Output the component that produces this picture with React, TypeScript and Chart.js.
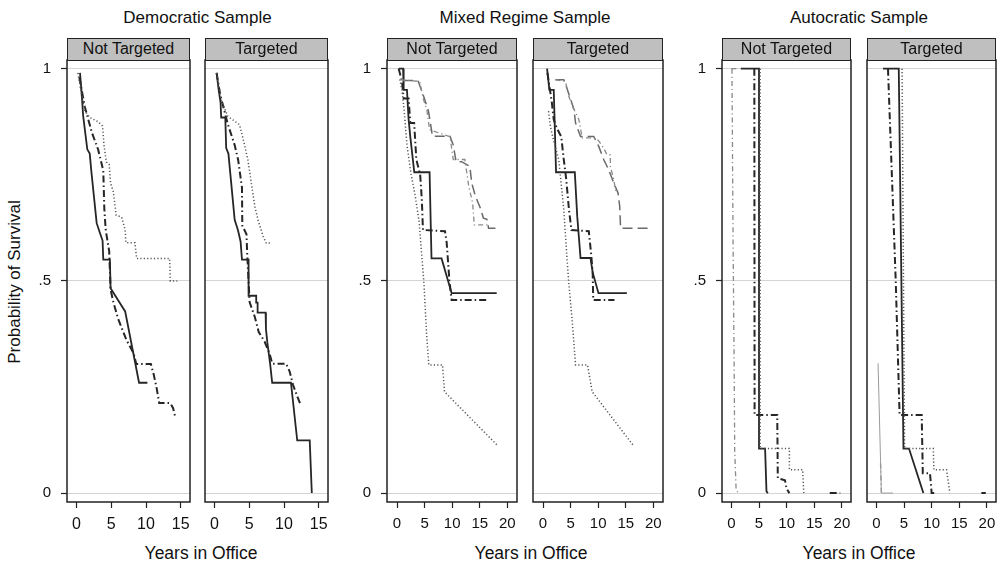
import React, { useEffect, useRef } from 'react';
import { Chart, registerables } from 'chart.js';

Chart.register(...registerables);

const FONT = '"Liberation Sans", Arial, Helvetica, sans-serif';

// ---------- axis tick values ----------
const X_TICKS_15 = [0, 5, 10, 15];
const X_TICKS_20 = [0, 5, 10, 15, 20];
const Y_TICKS = [0, 0.5, 1];
const Y_TICK_LABELS = ['0', '.5', '1'];

const GROUP_TITLES = ['Democratic Sample', 'Mixed Regime Sample', 'Autocratic Sample'];
const STRIP_LABELS = ['Not Targeted', 'Targeted'];
const X_TITLE = 'Years in Office';
const Y_TITLE = 'Probability of Survival';

type Pt = [number, number | null];

// ---------- Democratic, Not Targeted ----------
const demNT_solid: Pt[] = [[0.5, 0.99], [0.7, 0.95], [0.96, 0.888], [1.55, 0.81], [1.9, 0.8], [2.16, 0.754], [2.9, 0.636], [3.37, 0.613], [3.75, 0.595], [3.85, 0.55], [4.8, 0.55], [4.9, 0.483], [7.0, 0.428], [9.0, 0.26], [10.2, 0.26]];
const demNT_dashdot: Pt[] = [[0.4, 0.98], [1.2, 0.91], [2.2, 0.85], [3.1, 0.81], [3.85, 0.76], [4.0, 0.67], [4.2, 0.62], [4.7, 0.57], [4.9, 0.48], [5.3, 0.45], [6.0, 0.41], [7.2, 0.36], [8.2, 0.33], [8.6, 0.304], [10.7, 0.304], [11.1, 0.28], [11.5, 0.25], [11.9, 0.212], [13.5, 0.212], [13.9, 0.2], [14.2, 0.18]];
const demNT_dotted: Pt[] = [[0.2, 0.99], [0.6, 0.95], [1.2, 0.9], [1.9, 0.885], [3.1, 0.875], [3.75, 0.865], [3.95, 0.82], [4.3, 0.78], [4.7, 0.775], [4.9, 0.73], [5.3, 0.71], [5.7, 0.655], [6.5, 0.65], [7.0, 0.62], [7.1, 0.59], [8.4, 0.59], [8.65, 0.553], [13.4, 0.553], [13.5, 0.5], [14.5, 0.5]];

// ---------- Democratic, Targeted ----------
const demT_solid: Pt[] = [[0.3, 0.99], [0.6, 0.95], [0.87, 0.92], [0.96, 0.885], [1.55, 0.885], [1.68, 0.813], [2.0, 0.8], [2.9, 0.644], [3.37, 0.62], [3.75, 0.593], [3.95, 0.55], [4.9, 0.55], [4.9, 0.465], [6.0, 0.465], [6.0, 0.449], [6.2, 0.449], [6.2, 0.425], [7.35, 0.425], [7.4, 0.387], [7.6, 0.355], [7.8, 0.33], [8.0, 0.305], [8.3, 0.26], [11.0, 0.26], [11.2, 0.23], [11.9, 0.124], [13.7, 0.124], [14.0, 0.0]];
const demT_dashdot: Pt[] = [[0.3, 0.99], [0.8, 0.94], [1.9, 0.87], [2.9, 0.82], [3.4, 0.785], [3.95, 0.72], [4.0, 0.63], [4.6, 0.61], [4.7, 0.565], [5.05, 0.45], [5.8, 0.415], [6.35, 0.38], [7.2, 0.357], [7.9, 0.33], [8.3, 0.305], [10.3, 0.305], [10.8, 0.287], [11.3, 0.255], [11.9, 0.228], [12.3, 0.212]];
const demT_dotted: Pt[] = [[0.3, 0.99], [0.96, 0.927], [1.9, 0.888], [3.6, 0.868], [4.2, 0.829], [4.8, 0.785], [5.3, 0.73], [5.8, 0.676], [6.25, 0.644], [7.0, 0.605], [7.45, 0.589], [8.0, 0.589]];

// ---------- Mixed regime, Not Targeted ----------
const mixNT_solid: Pt[] = [[0.3, 1], [1.1, 1], [1.2, 0.95], [1.8, 0.95], [2.1, 0.88], [2.4, 0.84], [3.13, 0.756], [5.9, 0.756], [6.25, 0.553], [8.07, 0.553], [9.9, 0.471], [18.07, 0.471]];
const mixNT_dashdot: Pt[] = [[0.3, 1], [0.9, 0.97], [1.2, 0.93], [2.1, 0.93], [2.4, 0.872], [3.1, 0.872], [3.5, 0.786], [4.2, 0.75], [4.5, 0.69], [4.7, 0.62], [8.7, 0.617], [9.0, 0.59], [9.5, 0.5], [9.9, 0.455], [16.25, 0.455]];
const mixNT_dotted: Pt[] = [[0.5, 0.975], [0.9, 0.95], [1.3, 0.9], [1.8, 0.82], [2.5, 0.755], [3.3, 0.7], [4.0, 0.64], [4.4, 0.573], [4.85, 0.5], [5.35, 0.377], [5.76, 0.302], [8.25, 0.302], [8.6, 0.239], [18.07, 0.114]];
const mixNT_longdash: Pt[] = [[1.1, 0.972], [3.8, 0.972], [4.85, 0.934], [5.7, 0.9], [6.25, 0.856], [6.4, 0.841], [9.6, 0.841], [10.2, 0.82], [10.7, 0.781], [11.7, 0.781], [13.2, 0.77], [13.55, 0.73], [14.2, 0.7], [15.1, 0.672], [15.66, 0.648], [16.3, 0.645], [16.6, 0.624], [17.9, 0.624]];
const mixNT_graydashdot: Pt[] = [[0.6, 0.974], [4.1, 0.97], [4.8, 0.927], [5.4, 0.904], [5.9, 0.856], [9.6, 0.84], [10.2, 0.786], [12.3, 0.786], [13.0, 0.723], [13.7, 0.684], [14.0, 0.632], [16.4, 0.632]];

// ---------- Mixed regime, Targeted ----------
const mixT_solid: Pt[] = [[0.73, 1], [1.15, 0.95], [1.94, 0.95], [2.36, 0.756], [5.76, 0.756], [6.2, 0.652], [6.8, 0.554], [8.6, 0.554], [9.0, 0.52], [10.05, 0.471], [15.2, 0.471]];
const mixT_dashdot: Pt[] = [[0.8, 0.99], [1.6, 0.92], [1.94, 0.88], [2.5, 0.86], [3.3, 0.84], [3.76, 0.786], [4.2, 0.74], [4.7, 0.668], [5.15, 0.62], [8.3, 0.617], [8.75, 0.56], [9.0, 0.518], [9.1, 0.455], [12.95, 0.455]];
const mixT_dotted: Pt[] = [[1.0, 0.9], [1.33, 0.864], [1.94, 0.829], [2.85, 0.786], [3.76, 0.668], [4.36, 0.55], [4.64, 0.5], [5.27, 0.408], [5.9, 0.302], [8.07, 0.302], [8.9, 0.239], [16.5, 0.11]];
const mixT_longdash: Pt[] = [[2.24, 0.974], [3.76, 0.974], [4.3, 0.955], [4.7, 0.94], [5.6, 0.904], [5.9, 0.872], [6.8, 0.84], [9.2, 0.84], [10.1, 0.817], [11.0, 0.786], [11.9, 0.762], [12.85, 0.73], [13.6, 0.707], [13.9, 0.676], [14.06, 0.624], [19.8, 0.624]];
const mixT_graydashdot: Pt[] = [[2.24, 0.974], [4.06, 0.97], [4.67, 0.935], [5.4, 0.91], [6.5, 0.88], [7.1, 0.837], [9.5, 0.837], [10.1, 0.83], [11.0, 0.813], [11.6, 0.797], [12.2, 0.797], [12.2, 0.77], [12.8, 0.74], [13.2, 0.71]];

// ---------- Autocratic, Not Targeted ----------
const autNT_solid: Pt[] = [[1.7, 1], [5.0, 1], [5.0, 0.105], [6.1, 0.105], [6.35, 0.004], [6.6, 0]];
const autNT_dashdot: Pt[] = [[4.15, 1], [4.2, 0.184], [8.3, 0.184], [8.4, 0.035], [9.7, 0.03], [10.0, 0.01], [10.5, 0], [14.0, null], [17.8, 0], [19.7, 0]];
const autNT_dotted: Pt[] = [[5.2, 1], [5.2, 0.105], [10.5, 0.105], [10.5, 0.055], [12.9, 0.055], [13.1, 0]];
const autNT_graydashdot: Pt[] = [[0.1, 1], [0.3, 0.6], [0.5, 0.3], [0.6, 0.1], [0.85, 0.01], [1.2, 0]];
const autNT_longdash: Pt[] = [[0.0, 1], [1.2, 1]];

// ---------- Autocratic, Targeted ----------
const autT_solid: Pt[] = [[1.2, 1], [4.05, 1], [4.9, 0.105], [5.9, 0.105], [8.5, 0]];
const autT_dashdot: Pt[] = [[2.1, 1], [3.5, 0.5], [4.2, 0.184], [8.2, 0.184], [8.4, 0.047], [9.7, 0.047], [10.0, 0], [10.9, 0], [15.0, null], [19.0, 0], [19.8, 0]];
const autT_dotted: Pt[] = [[4.65, 1], [5.1, 0.105], [10.3, 0.105], [10.4, 0.055], [12.7, 0.055], [13.3, 0]];
const autT_thin: Pt[] = [[0.3, 0.306], [0.9, 0], [3.0, 0]];
const autT_graydashdot: Pt[] = [[0.75, 0.07], [0.9, 0]];

// ---------- layout (pixels) ----------
const PLOT_TOP = 60;
const PLOT_BOTTOM = 502;
const YW = 40;
const XH = 40;
const PAD = 2;

type StyleKey = 'solid' | 'dashdot' | 'dotted' | 'longdash' | 'graydashdot' | 'thin';
const STYLES: Record<StyleKey, { color: string; width: number; dash: number[] }> = {
  solid: { color: '#262626', width: 1.8, dash: [] },
  dashdot: { color: '#262626', width: 2, dash: [7, 3, 1.5, 3] },
  dotted: { color: '#555555', width: 1.5, dash: [1.2, 2.2] },
  longdash: { color: '#6a6a6a', width: 1.5, dash: [10, 5] },
  graydashdot: { color: '#8a8a8a', width: 1.3, dash: [5, 3, 1.2, 3] },
  thin: { color: '#9a9a9a', width: 1, dash: [] },
};

type PanelCfg = {
  left: number; right: number; xMin: number; xMax: number; xTicks: number[];
  showY: boolean; xTickSize: number; series: { pts: Pt[]; style: StyleKey }[];
};

const PANELS: PanelCfg[] = [
  { left: 67, right: 190, xMin: -1.37, xMax: 16.33, xTicks: X_TICKS_15, showY: true, xTickSize: 16,
    series: [{ pts: demNT_dotted, style: 'dotted' }, { pts: demNT_dashdot, style: 'dashdot' }, { pts: demNT_solid, style: 'solid' }] },
  { left: 205, right: 328, xMin: -1.37, xMax: 16.33, xTicks: X_TICKS_15, showY: false, xTickSize: 16,
    series: [{ pts: demT_dotted, style: 'dotted' }, { pts: demT_dashdot, style: 'dashdot' }, { pts: demT_solid, style: 'solid' }] },
  { left: 387, right: 517, xMin: -1.82, xMax: 21.75, xTicks: X_TICKS_20, showY: true, xTickSize: 15,
    series: [{ pts: mixNT_graydashdot, style: 'graydashdot' }, { pts: mixNT_longdash, style: 'longdash' }, { pts: mixNT_dotted, style: 'dotted' }, { pts: mixNT_dashdot, style: 'dashdot' }, { pts: mixNT_solid, style: 'solid' }] },
  { left: 533, right: 663, xMin: -1.82, xMax: 21.75, xTicks: X_TICKS_20, showY: false, xTickSize: 15,
    series: [{ pts: mixT_graydashdot, style: 'graydashdot' }, { pts: mixT_longdash, style: 'longdash' }, { pts: mixT_dotted, style: 'dotted' }, { pts: mixT_dashdot, style: 'dashdot' }, { pts: mixT_solid, style: 'solid' }] },
  { left: 722, right: 851, xMin: -1.7, xMax: 21.65, xTicks: X_TICKS_20, showY: true, xTickSize: 15,
    series: [{ pts: autNT_longdash, style: 'graydashdot' }, { pts: autNT_graydashdot, style: 'graydashdot' }, { pts: autNT_dotted, style: 'dotted' }, { pts: autNT_dashdot, style: 'dashdot' }, { pts: autNT_solid, style: 'solid' }] },
  { left: 867, right: 996, xMin: -1.7, xMax: 21.65, xTicks: X_TICKS_20, showY: false, xTickSize: 15,
    series: [{ pts: autT_thin, style: 'thin' }, { pts: autT_graydashdot, style: 'graydashdot' }, { pts: autT_dotted, style: 'dotted' }, { pts: autT_dashdot, style: 'dashdot' }, { pts: autT_solid, style: 'solid' }] },
];

const boxPlugin = {
  id: 'plotBox',
  afterDatasetsDraw(chart: any) {
    const { ctx, chartArea: a } = chart;
    ctx.save();
    ctx.strokeStyle = '#222';
    ctx.lineWidth = 1.5;
    ctx.setLineDash([]);
    ctx.strokeRect(a.left, a.top, a.right - a.left, a.bottom - a.top);
    ctx.restore();
  },
};

function Panel({ cfg }: { cfg: PanelCfg }) {
  const ref = useRef<HTMLCanvasElement>(null);
  const canvasLeft = cfg.left - (cfg.showY ? YW : 0) - PAD;
  const width = cfg.right + PAD - canvasLeft;
  const top = PLOT_TOP - PAD;
  const height = PAD + (PLOT_BOTTOM - PLOT_TOP) + XH;

  useEffect(() => {
    const chart = new Chart(ref.current as HTMLCanvasElement, {
      type: 'line',
      data: {
        datasets: cfg.series.map((sr) => ({
          data: sr.pts.map(([x, y]) => ({ x, y })),
          borderColor: STYLES[sr.style].color,
          borderWidth: STYLES[sr.style].width,
          borderDash: STYLES[sr.style].dash,
          borderCapStyle: 'butt',
          borderJoinStyle: 'miter',
          pointRadius: 0,
          fill: false,
          tension: 0,
          spanGaps: false,
        })) as any,
      },
      options: {
        animation: false,
        responsive: false,
        devicePixelRatio: 1,
        events: [],
        layout: { padding: { left: PAD, right: PAD, top: PAD, bottom: 0 } },
        plugins: { legend: { display: false }, tooltip: { enabled: false } },
        scales: {
          x: {
            type: 'linear',
            min: cfg.xMin,
            max: cfg.xMax,
            afterBuildTicks: (s: any) => { s.ticks = cfg.xTicks.map((v) => ({ value: v })); },
            afterFit: (s: any) => { s.height = XH; s.paddingLeft = 0; s.paddingRight = 0; },
            ticks: {
              font: { size: cfg.xTickSize, family: FONT },
              color: '#111',
              padding: 7,
              maxRotation: 0,
              autoSkip: false,
              callback: (v: any) => String(v),
            },
            grid: { drawOnChartArea: false, drawTicks: true, tickLength: 6, tickColor: '#222', tickWidth: 1.2 },
            border: { display: false },
          },
          y: {
            type: 'linear',
            min: -0.021,
            max: 1.0205,
            afterBuildTicks: (s: any) => { s.ticks = Y_TICKS.map((v) => ({ value: v })); },
            afterFit: (s: any) => { s.width = cfg.showY ? YW : 0; s.paddingTop = 0; s.paddingBottom = 0; },
            ticks: {
              display: cfg.showY,
              font: { size: 15, family: FONT },
              color: '#111',
              padding: 10,
              callback: (_v: any, i: number) => Y_TICK_LABELS[i],
            },
            grid: { color: '#d4d4d4', lineWidth: 1, drawTicks: cfg.showY, tickLength: 6, tickColor: '#222', tickWidth: 1.2 },
            border: { display: false },
          },
        },
      } as any,
      plugins: [boxPlugin],
    });
    return () => chart.destroy();
  }, []);

  return (
    <canvas
      ref={ref}
      width={width}
      height={height}
      style={{ position: 'absolute', left: canvasLeft, top, width, height }}
    />
  );
}

const textBase: React.CSSProperties = {
  position: 'absolute',
  fontFamily: FONT,
  fontSize: 16,
  color: '#111',
  whiteSpace: 'nowrap',
  textAlign: 'center',
};

export default function App() {
  const groupCenters = [197.5, 525, 859];
  const xTitleCenters = [201, 531, 859];
  return (
    <div style={{ position: 'fixed', left: 0, top: 0, width: 1000, height: 565, background: '#fff', overflow: 'hidden' }}>
      {PANELS.map((p, i) => <Panel key={i} cfg={p} />)}
      {PANELS.map((p, i) => (
        <div
          key={'s' + i}
          style={{
            ...textBase,
            left: p.left,
            top: 38,
            width: p.right - p.left,
            height: 23,
            boxSizing: 'border-box',
            border: '1.5px solid #222',
            background: '#bfbfbf',
            lineHeight: '20px',
          }}
        >
          {STRIP_LABELS[i % 2]}
        </div>
      ))}
      {GROUP_TITLES.map((t, i) => (
        <div key={'t' + i} style={{ ...textBase, fontSize: 17, left: groupCenters[i] - 150, width: 300, top: 8, lineHeight: '20px' }}>{t}</div>
      ))}
      {xTitleCenters.map((c, i) => (
        <div key={'x' + i} style={{ ...textBase, fontSize: 17.5, left: c - 100, width: 200, top: 543, lineHeight: '20px' }}>{X_TITLE}</div>
      ))}
      <div
        style={{
          ...textBase,
          fontSize: 17,
          left: 15 - 100,
          top: 282 - 10,
          width: 200,
          lineHeight: '20px',
          transform: 'rotate(-90deg)',
        }}
      >
        {Y_TITLE}
      </div>
    </div>
  );
}
